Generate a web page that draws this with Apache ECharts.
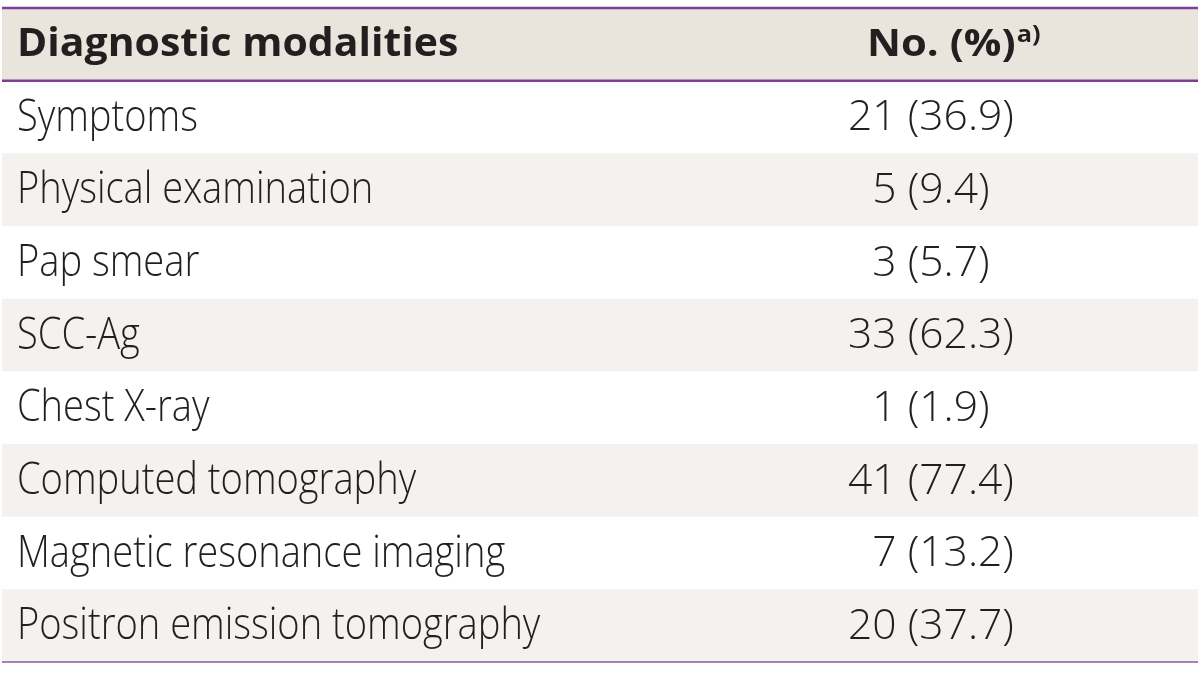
<!DOCTYPE html>
<html>
<head>
<meta charset="utf-8">
<script src="https://cdn.jsdelivr.net/npm/echarts@6/dist/echarts.min.js"></script>
<style>
html,body{margin:0;padding:0;background:#ffffff;}
#chart{width:1200px;height:673px;}
</style>
</head>
<body>
<div id="chart"></div>
<script>
// ---- data ----
const headerLabels = ['Diagnostic modalities', 'No. (%)'];
const headerNote = 'a)';
const modalities = [
  'Symptoms',
  'Physical examination',
  'Pap smear',
  'SCC-Ag',
  'Chest X-ray',
  'Computed tomography',
  'Magnetic resonance imaging',
  'Positron emission tomography'
];
const counts = [21, 5, 3, 33, 1, 41, 7, 20];
const percents = [36.9, 9.4, 5.7, 62.3, 1.9, 77.4, 13.2, 37.7];

// ---- build ----
const FIG = '\u2007';
function cellText(i) {
  const c = String(counts[i]);
  const p = percents[i].toFixed(1);
  const intLen = p.split('.')[0].length;
  let pad = '';
  for (let k = c.length; k < intLen; k++) pad += FIG;
  return pad + c + ' (' + p + ')';
}
const rows = ['header'].concat(modalities);
const seriesData = rows.map((r, i) => [0, i]);

const PURPLE = '#7e3f98';
const HEADER_BG = '#e9e5dc';
const STRIPE_BG = '#f4f2ee';
const TEXT = '#231f20';
const FONT = '"Open Sans", "Noto Sans", sans-serif';

const chart = echarts.init(document.getElementById('chart'), null, {renderer: 'canvas'});

function renderItem(params, api) {
  const idx = api.value(1);
  const c = api.coord([0, idx]);
  const h = api.size([0, 1])[1];
  const x0 = api.coord([2, idx])[0];
  const x1 = api.coord([1198, idx])[0];
  const top = c[1] - h / 2;
  const bot = c[1] + h / 2;
  const children = [];
  let bg = null;
  if (idx === 0) bg = HEADER_BG;
  else if (idx % 2 === 0) bg = STRIPE_BG;
  if (bg) {
    children.push({type: 'rect', shape: {x: x0, y: top, width: x1 - x0, height: h}, style: {fill: bg}});
  }
  const leftX = api.coord([17, idx])[0];
  const numX = api.coord([931, idx])[0];
  if (idx === 0) {
    children.push({type: 'text', x: leftX, y: c[1] + 1, scaleX: 1.05, style: {
      text: headerLabels[0], fill: TEXT, font: 'bold 39px ' + FONT,
      align: 'left', verticalAlign: 'middle'}});
    children.push({type: 'text', x: api.coord([867, idx])[0], y: c[1] + 1, scaleX: 1.1, style: {
      text: '{m|' + headerLabels[1] + '}{s|' + headerNote + '}',
      align: 'left', verticalAlign: 'middle',
      rich: {
        m: {fill: TEXT, font: 'bold 38px ' + FONT},
        s: {fill: TEXT, font: 'bold 23px ' + FONT, verticalAlign: 'top', padding: [0, 0, 20, 1]}
      }}});
    children.push({type: 'line', shape: {x1: x0, y1: top, x2: x1, y2: top}, style: {stroke: PURPLE, lineWidth: 2.5}});
    children.push({type: 'line', shape: {x1: x0, y1: bot, x2: x1, y2: bot}, style: {stroke: PURPLE, lineWidth: 2.5}});
  } else {
    const i = idx - 1;
    children.push({type: 'text', x: leftX, y: c[1] + 1, scaleX: 0.865, style: {
      text: modalities[i], fill: TEXT, font: '350 44px ' + FONT,
      align: 'left', verticalAlign: 'middle'}});
    children.push({type: 'text', x: numX, y: c[1] + 1, scaleX: 0.99, style: {
      text: cellText(i), fill: TEXT, font: '350 43px ' + FONT,
      align: 'center', verticalAlign: 'middle'}});
    if (idx === rows.length - 1) {
      children.push({type: 'line', shape: {x1: x0, y1: bot, x2: x1, y2: bot}, style: {stroke: '#8d55a6', lineWidth: 1.5}});
    }
  }
  return {type: 'group', children: children};
}

chart.setOption({
  animation: false,
  backgroundColor: '#ffffff',
  grid: {left: 0, right: 0, top: 8, bottom: 11},
  xAxis: {type: 'value', min: 0, max: 1200, show: false},
  yAxis: {type: 'category', data: rows, inverse: true, show: false},
  series: [{
    type: 'custom',
    renderItem: renderItem,
    data: seriesData,
    encode: {x: 0, y: 1},
    silent: true
  }]
});
</script>
</body>
</html>
